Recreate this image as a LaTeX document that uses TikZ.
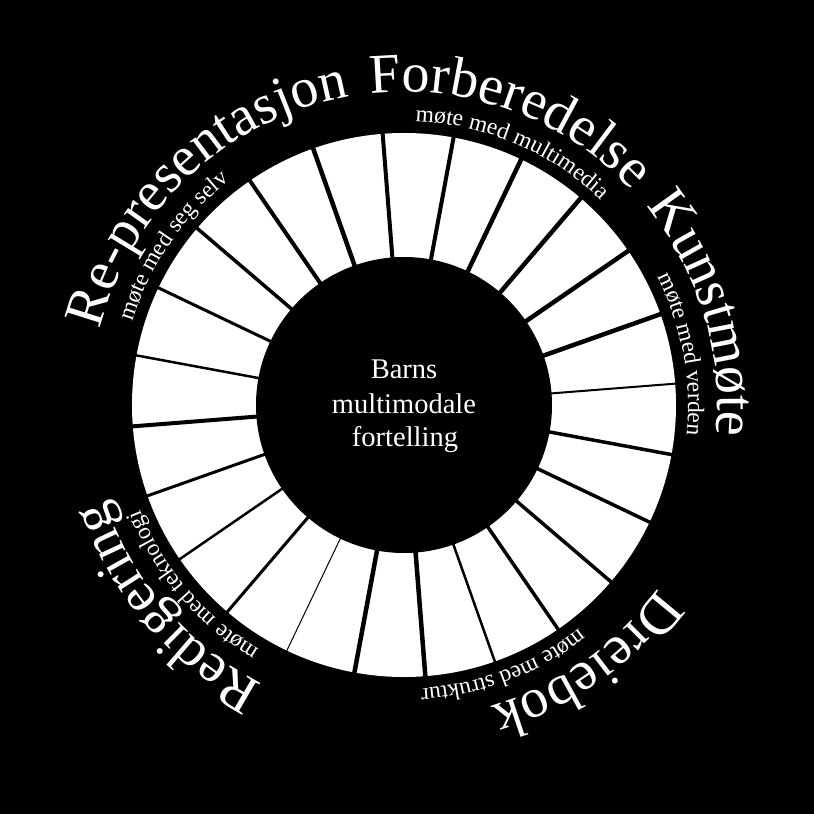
\documentclass[tikz,border=0pt]{standalone}
\usepackage{fontspec}
\setmainfont{Liberation Serif}
\usetikzlibrary{decorations.text}
\newcommand\mybigtext{\fontsize{56}{60}\selectfont\color{white}}
\newcommand\mysmalltext{\fontsize{23.5}{28}\selectfont\color{white}}
\begin{document}
\begin{tikzpicture}[x=1pt,y=1pt,
  bigarc/.style={decorate, decoration={text along path, text align=center, text={|\mybigtext|#1}}},
  smallarc/.style={decorate, decoration={text along path, text align=center, text={|\mysmalltext|#1}}},
  sep/.style={draw=black, line width=#1},
  centertext/.style={text=white, font=\fontsize{28.5}{34}\selectfont, anchor=base, inner sep=0pt}]
\useasboundingbox (-404,-409) rectangle (410,405);
\fill[black] (-404,-409) rectangle (410,405);
% ring
\node[circle, fill=white, minimum size=544pt, inner sep=0pt] (ring) at (0,0) {};
\foreach \a/\w in {4.5/2, 19.5/4.5, 34.5/4.5, 49.5/4.5, 64.5/4.5, 79.5/4, 94.5/4, 109.5/4.5,
                   124.5/4, 139.5/3.5, 154.5/3, 169.5/2.5, 184.5/4, 199.5/3, 214.5/2.5, 229.5/3,
                   244.5/1, 259.5/4.5, 274.5/4.5, 289.5/2.5, 304.5/3.5, 319.5/3.5, 334.5/3.5, 349.5/3.5}
  \draw[sep=\w] (\a:140) -- (\a:280);
\node[circle, fill=black, minimum size=296pt, inner sep=0pt] (hub) at (0,0) {};
% centre text
\node[centertext] (barns) at (0,27) {Barns};
\node[centertext] (multi) at (0,-8) {multimodale};
\node[centertext] (fort) at (1,-41) {fortelling};
% big curved labels (baseline radius 313, clockwise)
\path[bigarc={Re-presentasjon}] (193:313) arc[start angle=193, end angle=73, radius=313];
\path[bigarc={Forberedelse}] (129.7:313) arc[start angle=129.7, end angle=9.7, radius=313];
\path[bigarc={Kunstmøte}] (76.9:313) arc[start angle=76.9, end angle=-43.1, radius=313];
\path[bigarc={Dreiebok}] (5.1:313) arc[start angle=5.1, end angle=-114.9, radius=313];
\path[bigarc={Redigering}] (-79.6:313) arc[start angle=-79.6, end angle=-199.6, radius=313];
% small curved labels (baseline radius 284)
\path[smallarc={møte med seg selv}] (205.4:284) arc[start angle=205.4, end angle=85.4, radius=284];
\path[smallarc={møte med multimedia}] (126.9:284) arc[start angle=126.9, end angle=6.9, radius=284];
\path[smallarc={møte med verden}] (70.4:284) arc[start angle=70.4, end angle=-49.6, radius=284];
\path[smallarc={møte med struktur}] (-9.2:284) arc[start angle=-9.2, end angle=-129.2, radius=284];
\path[smallarc={møte med teknologi}] (-79.5:284) arc[start angle=-79.5, end angle=-199.5, radius=284];
\end{tikzpicture}
\end{document}
